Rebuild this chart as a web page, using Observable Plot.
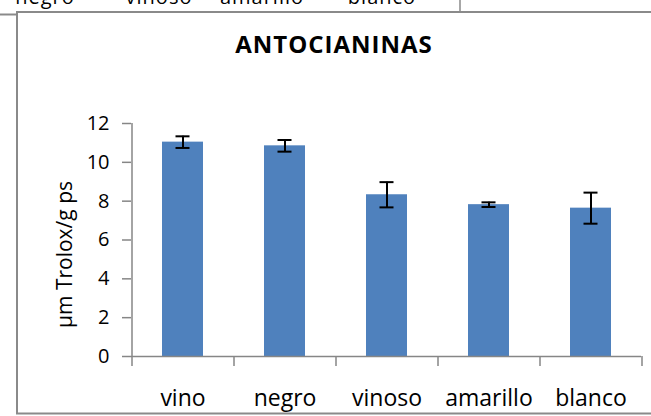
<!DOCTYPE html>
<html>
<head>
<meta charset="utf-8">
<script src="https://cdn.jsdelivr.net/npm/d3@7"></script>
<script src="https://cdn.jsdelivr.net/npm/@observablehq/plot@0.6"></script>
<style>
  html, body { margin: 0; padding: 0; background: #fff; }
  #page { position: relative; width: 651px; height: 416px; overflow: hidden; font-family: "Open Sans", sans-serif; }
  #deco, #chart { position: absolute; left: 0; top: 0; }
  #chart svg { display: block; }
</style>
</head>
<body>
<div id="page">
  <svg id="deco" width="651" height="416"></svg>
  <div id="chart"></div>
</div>
<script>
// ---- data ----
const categories = ["vino", "negro", "vinoso", "amarillo", "blanco"];
const means = [11.04, 10.85, 8.33, 7.82, 7.64];
const errors = [0.30, 0.30, 0.65, 0.12, 0.80];
const yTicks = [0, 2, 4, 6, 8, 10, 12];
const title = "ANTOCIANINAS";
const yLabel = "µm Trolox/g ps";
// clipped labels of the neighbouring chart visible at the top edge
const topStripLabels = ["negro", "vinoso", "amarillo", "blanco"];
const topStripCenters = [45, 159, 262, 382];

const data = categories.map((c, i) => ({cat: c, v: means[i], e: errors[i]}));

// ---- decorations (borders, clipped neighbour text, title) ----
const ns = "http://www.w3.org/2000/svg";
const deco = document.getElementById("deco");
function el(tag, attrs, text) {
  const e = document.createElementNS(ns, tag);
  for (const k in attrs) e.setAttribute(k, attrs[k]);
  if (text != null) e.textContent = text;
  deco.appendChild(e);
  return e;
}
const gray = "#8a8a8a";
el("line", {x1: 0, y1: 14.5, x2: 17, y2: 14.5, stroke: gray, "stroke-width": 2});
el("line", {x1: 460, y1: 0, x2: 460, y2: 12, stroke: gray, "stroke-width": 1.5});
el("path", {d: "M655,12 H17 V413.5 H655", fill: "none", stroke: gray, "stroke-width": 2});
topStripLabels.forEach((t, i) => el("text", {x: topStripCenters[i], y: 4, "text-anchor": "middle", "font-size": 20, "font-family": "Open Sans", "letter-spacing": "1px", fill: "#000"}, t));
el("text", {x: 334, y: 53.3, "text-anchor": "middle", "font-size": 24, "font-weight": "bold", "font-family": "Open Sans", "letter-spacing": "1px", fill: "#000"}, title);

// ---- chart ----
const axisGray = "#868686";
const half = 51; // half a category step in px (for Excel-style boundary ticks)
const chart = Plot.plot({
  width: 651,
  height: 416,
  marginLeft: 131,
  marginRight: 10,
  marginTop: 123,
  marginBottom: 60,
  style: {fontFamily: '"Open Sans", sans-serif', background: "transparent", color: "#000"},
  x: {type: "band", domain: categories, paddingInner: 0.6, paddingOuter: 0.3, align: 0.5},
  y: {domain: [0, 12]},
  marks: [
    Plot.barY(data, {x: "cat", y: "v", fill: "#4F81BD"}),
    Plot.ruleX(data, {x: "cat", y1: d => d.v - d.e, y2: d => d.v + d.e, stroke: "#000", strokeWidth: 2}),
    Plot.tickY(data, {x: "cat", y: d => d.v + d.e, stroke: "#000", strokeWidth: 2, insetLeft: 13.5, insetRight: 13.5}),
    Plot.tickY(data, {x: "cat", y: d => d.v - d.e, stroke: "#000", strokeWidth: 2, insetLeft: 13.5, insetRight: 13.5}),
    Plot.ruleY([0], {stroke: axisGray, strokeWidth: 1.5}),
    Plot.ruleX([categories[0]], {x: d => d, y1: 0, y2: 12, dx: -half, stroke: axisGray, strokeWidth: 1.5}),
    Plot.ruleX(categories, {x: d => d, y1: 0, y2: 0, insetBottom: -10, dx: -half, stroke: axisGray, strokeWidth: 1.5}),
    Plot.ruleX([categories[categories.length - 1]], {x: d => d, y1: 0, y2: 0, insetBottom: -10, dx: half, stroke: axisGray, strokeWidth: 1.5}),
    Plot.axisY({ticks: yTicks, tickSize: 9, tickPadding: 13, fontSize: 20, stroke: axisGray, strokeWidth: 1.5, fill: "#000", label: null}),
    Plot.axisX({tickSize: 0, tickPadding: 33, fontSize: 23, fill: "#000", label: null}),
    Plot.text([yLabel], {text: d => d, frameAnchor: "left", rotate: -90, dx: -66, dy: 14.5, fontSize: 21, fill: "#000", textAnchor: "middle", lineAnchor: "middle"})
  ]
});
document.getElementById("chart").appendChild(chart);
</script>
</body>
</html>
